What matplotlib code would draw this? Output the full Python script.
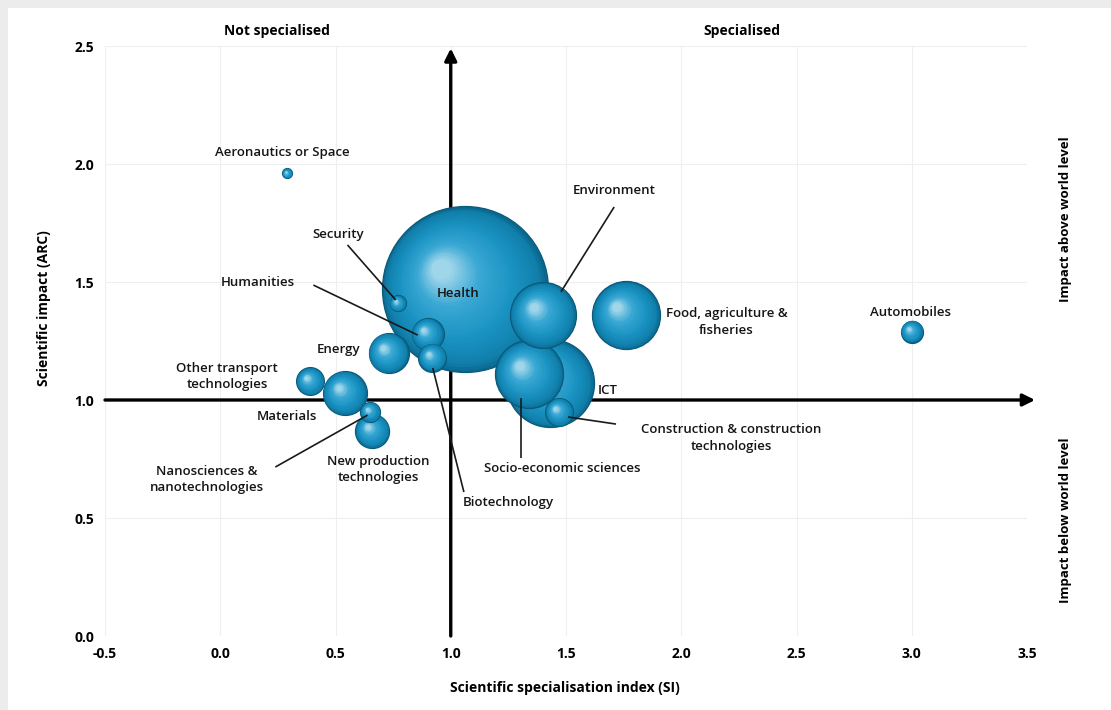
import numpy as np
import matplotlib
matplotlib.use("Agg")
import matplotlib.pyplot as plt
from matplotlib.colors import LinearSegmentedColormap
from matplotlib.transforms import ScaledTranslation
from matplotlib.patches import Rectangle

plt.rcParams['font.family'] = ['Open Sans', 'DejaVu Sans']

# ---- data -------------------------------------------------------------
fields = ["Health", "ICT", "Food, agriculture &\nfisheries", "Socio-economic sciences",
          "Environment", "Materials", "Energy", "New production\ntechnologies",
          "Humanities", "Biotechnology", "Construction & construction\ntechnologies",
          "Other transport\ntechnologies", "Nanosciences &\nnanotechnologies",
          "Automobiles", "Security", "Aeronautics or Space"]
si = [1.06, 1.43, 1.76, 1.34, 1.40, 0.54, 0.73, 0.66, 0.90, 0.92, 1.47, 0.39, 0.65, 3.00, 0.77, 0.29]
arc = [1.47, 1.07, 1.36, 1.11, 1.36, 1.03, 1.20, 0.87, 1.28, 1.18, 0.95, 1.08, 0.95, 1.29, 1.41, 1.96]
# relative publication volume (Health = 100), bubble area is proportional
volume = [100.0, 28.1, 16.8, 16.8, 15.8, 7.0, 5.8, 4.2, 3.7, 2.8, 2.8, 2.8, 1.45, 1.75, 0.93, 0.36]

xticks = [-0.5, 0.0, 0.5, 1.0, 1.5, 2.0, 2.5, 3.0, 3.5]
yticks = [0.0, 0.5, 1.0, 1.5, 2.0, 2.5]

# ---- figure -----------------------------------------------------------
fig = plt.figure(figsize=(11.11, 7.10), dpi=100, facecolor="#ececec")
fig.patches.append(Rectangle((8 / 1111, 0), 1, 1 - 8 / 710, transform=fig.transFigure,
                             facecolor="white", edgecolor="none", zorder=-10))
ax = fig.add_axes([105 / 1111, 74 / 710, 922 / 1111, 590 / 710], zorder=1)
ax.set_facecolor("none")
ax.set_xlim(-0.5, 3.5)
ax.set_ylim(0.0, 2.5)
ax.set_xticks(xticks)
ax.set_yticks(yticks)
ax.set_xticklabels([f"{v:.1f}" for v in xticks], fontweight="bold", fontsize=10)
ax.set_yticklabels([f"{v:.1f}" for v in yticks], fontweight="bold", fontsize=10)
ax.tick_params(length=0, pad=8)
ax.grid(True, color="#efefef", linewidth=0.8)
ax.set_axisbelow(True)
for s in ax.spines.values():
    s.set_visible(False)

# quadrant axes with arrows
ax.annotate("", xy=(3.535, 1.0), xytext=(-0.5, 1.0),
            arrowprops=dict(arrowstyle="-|>", lw=2.4, color="black", mutation_scale=18,
                            shrinkA=0, shrinkB=0), annotation_clip=False, zorder=2)
ax.annotate("", xy=(1.0, 2.49), xytext=(1.0, 0.0),
            arrowprops=dict(arrowstyle="-|>", lw=2.4, color="black", mutation_scale=18,
                            shrinkA=0, shrinkB=0), annotation_clip=False, zorder=2)

# ---- shaded bubbles ---------------------------------------------------
shade = LinearSegmentedColormap.from_list(
    "bubble", [(0.0, "#0a6890"), (0.08, "#117fab"), (0.35, "#1a93c2"),
               (0.7, "#3aa8d4"), (1.0, "#9fd6ea")])
px_to_pt = 0.72
order = list(np.argsort(volume)[::-1])
n_layers = 36
for rank, i in enumerate(order):
    r_pt = 83 * np.sqrt(volume[i] / 100.0) * px_to_pt
    base_z = 3 + rank * 0.01
    ax.scatter([si[i]], [arc[i]], s=(2 * r_pt) ** 2, color=shade(0.0),
               edgecolors="#0a5a7a", linewidths=0.9, zorder=base_z)
    for k in range(1, n_layers):
        t = k / (n_layers - 1)
        rk = r_pt * (1 - 0.88 * t)
        dx = -0.28 * r_pt * t / 72
        dy = 0.24 * r_pt * t / 72
        tr = ax.transData + ScaledTranslation(dx, dy, fig.dpi_scale_trans)
        ax.scatter([si[i]], [arc[i]], s=(2 * rk) ** 2, color=shade(t),
                   linewidths=0, transform=tr, zorder=base_z)

# ---- labels -----------------------------------------------------------
label_pos = {
    "Aeronautics or Space": (0.27, 2.047),
    "Security": (0.51, 1.703),
    "Humanities": (0.165, 1.496),
    "Health": (1.03, 1.453),
    "Energy": (0.513, 1.216),
    "Other transport\ntechnologies": (0.03, 1.10),
    "Materials": (0.29, 0.932),
    "Nanosciences &\nnanotechnologies": (-0.057, 0.663),
    "New production\ntechnologies": (0.687, 0.705),
    "Biotechnology": (1.248, 0.564),
    "Socio-economic sciences": (1.483, 0.708),
    "Environment": (1.709, 1.886),
    "ICT": (1.683, 1.042),
    "Construction & construction\ntechnologies": (2.217, 0.84),
    "Food, agriculture &\nfisheries": (2.196, 1.33),
    "Automobiles": (2.996, 1.369),
}
for name, (lx, ly) in label_pos.items():
    ax.text(lx, ly, name, ha="center", va="center", fontsize=9.5, fontweight="semibold",
            color="#151515", zorder=10, linespacing=1.35)

leaders = [
    ((0.552, 1.657), (0.761, 1.424)),
    ((0.404, 1.487), (0.857, 1.275)),
    ((0.922, 1.136), (1.057, 0.610)),
    ((1.709, 1.818), (1.478, 1.458)),
    ((1.304, 1.008), (1.304, 0.754)),
    ((1.509, 0.928), (1.717, 0.898)),
    ((0.239, 0.716), (0.639, 0.936)),
]
for (x0, y0), (x1, y1) in leaders:
    ax.plot([x0, x1], [y0, y1], color="#1a1a1a", lw=1.2, zorder=9, solid_capstyle="butt")

# quadrant headings
ax.text(0.248, 2.565, "Not specialised", ha="center", va="center", fontsize=10,
        fontweight="bold", clip_on=False)
ax.text(2.265, 2.565, "Specialised", ha="center", va="center", fontsize=10,
        fontweight="bold", clip_on=False)

fig.text(44 / 1111, 1 - 308 / 710, "Scientific impact (ARC)", rotation=90, ha="center",
         va="center", fontsize=10, fontweight="bold")
fig.text(565 / 1111, 1 - 688 / 710, "Scientific specialisation index (SI)", ha="center",
         va="center", fontsize=10, fontweight="bold")
fig.text(1066 / 1111, 1 - 219 / 710, "Impact above world level", rotation=90, ha="center",
         va="center", fontsize=9.5, fontweight="bold")
fig.text(1066 / 1111, 1 - 520 / 710, "Impact below world level", rotation=90, ha="center",
         va="center", fontsize=9.5, fontweight="bold")

fig.savefig("out.png", dpi=100, facecolor=fig.get_facecolor())
